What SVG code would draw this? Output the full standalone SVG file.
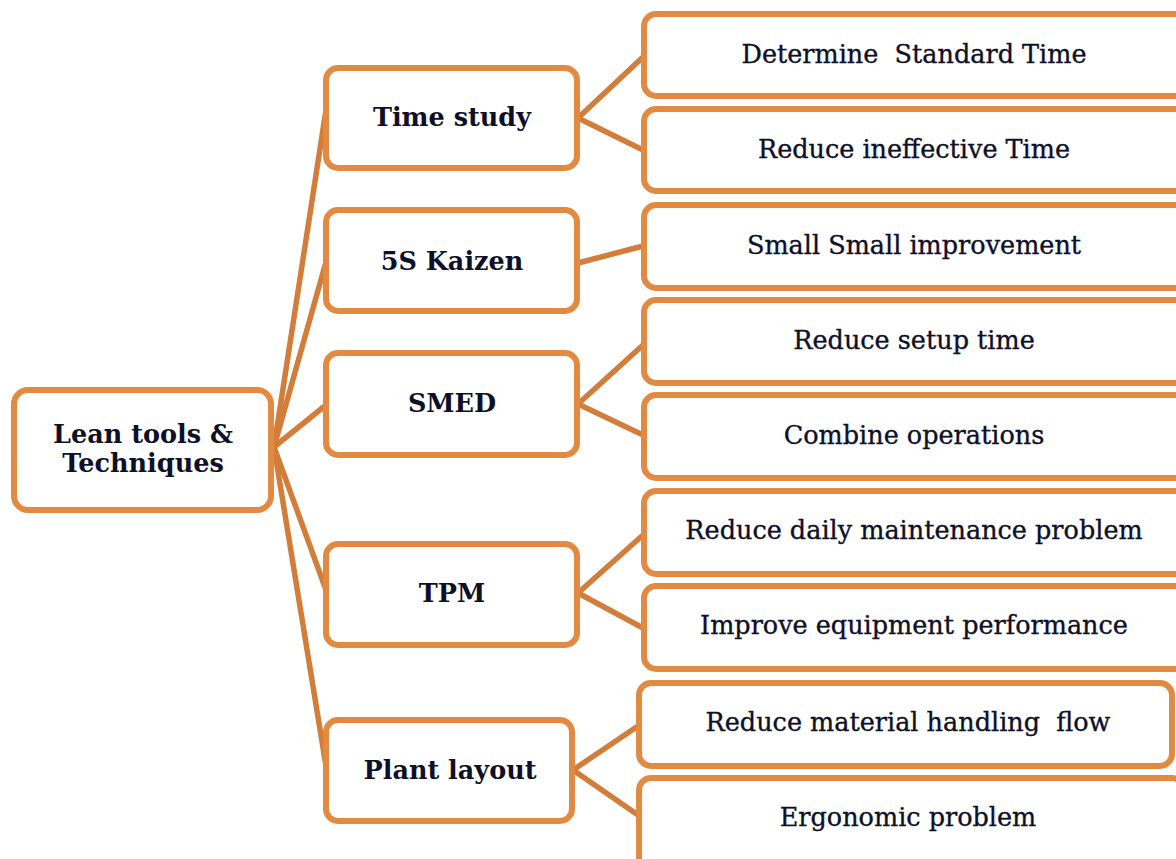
<svg xmlns="http://www.w3.org/2000/svg" width="1176" height="859" viewBox="0 0 1176 859">
<style>
.box{fill:#fff;stroke:#E28A41;stroke-width:6}
.c{stroke:#D27D39;stroke-width:5.5;fill:none;stroke-linecap:round}
.t{font-family:"DejaVu Serif","Liberation Serif",serif;font-size:25.5px;fill:#0e1028;stroke:#0e1028;stroke-width:0.35;text-anchor:middle;white-space:pre}
.b{font-family:"DejaVu Serif","Liberation Serif",serif;font-size:25.5px;font-weight:bold;fill:#0e1028;text-anchor:middle}
</style>
<rect width="1176" height="859" fill="#fff"/>
<g id="connectors">
<line class="c" x1="274" y1="447" x2="326" y2="110"/>
<line class="c" x1="274" y1="447" x2="326" y2="262"/>
<line class="c" x1="274" y1="447" x2="326" y2="405"/>
<line class="c" x1="274" y1="447" x2="326" y2="590"/>
<line class="c" x1="274" y1="447" x2="326" y2="766"/>
<line class="c" x1="578" y1="118" x2="643" y2="57"/>
<line class="c" x1="578" y1="118" x2="643" y2="150"/>
<line class="c" x1="578" y1="263" x2="643" y2="246"/>
<line class="c" x1="578" y1="404" x2="643" y2="345"/>
<line class="c" x1="578" y1="404" x2="643" y2="435"/>
<line class="c" x1="578" y1="593" x2="643" y2="535"/>
<line class="c" x1="578" y1="593" x2="643" y2="628"/>
<line class="c" x1="573" y1="770" x2="638" y2="726"/>
<line class="c" x1="573" y1="770" x2="638" y2="815"/>
</g>
<g id="root"><rect class="box" x="14" y="390" width="257" height="120" rx="14"/><text class="b" x="143" y="443">Lean tools &amp;</text><text class="b" x="143" y="472">Techniques</text></g>
<g id="time-study"><rect class="box" x="326" y="68" width="251" height="100" rx="12"/><text class="b" x="452" y="126">Time study</text></g>
<g id="kaizen"><rect class="box" x="326" y="210" width="251" height="101" rx="12"/><text class="b" x="452" y="270">5S Kaizen</text></g>
<g id="smed"><rect class="box" x="326" y="353" width="251" height="102" rx="12"/><text class="b" x="452" y="412">SMED</text></g>
<g id="tpm"><rect class="box" x="326" y="544" width="251" height="101" rx="12"/><text class="b" x="452" y="602">TPM</text></g>
<g id="plant-layout"><rect class="box" x="326" y="720" width="246" height="101" rx="12"/><text class="b" x="450" y="779">Plant layout</text></g>
<g id="n-determine"><rect class="box" x="644" y="14" width="545" height="82" rx="12"/><text class="t" x="914" y="63" xml:space="preserve">Determine  Standard Time</text></g>
<g id="n-ineffective"><rect class="box" x="644" y="109" width="545" height="82" rx="12"/><text class="t" x="914" y="158">Reduce ineffective Time</text></g>
<g id="n-small"><rect class="box" x="644" y="205" width="545" height="83" rx="12"/><text class="t" x="914" y="254">Small Small improvement</text></g>
<g id="n-setup"><rect class="box" x="644" y="300" width="545" height="83" rx="12"/><text class="t" x="914" y="349">Reduce setup time</text></g>
<g id="n-combine"><rect class="box" x="644" y="395" width="545" height="83" rx="12"/><text class="t" x="914" y="444">Combine operations</text></g>
<g id="n-daily"><rect class="box" x="644" y="491" width="545" height="83" rx="12"/><text class="t" x="914" y="539">Reduce daily maintenance problem</text></g>
<g id="n-equipment"><rect class="box" x="644" y="586" width="545" height="83" rx="12"/><text class="t" x="914" y="634">Improve equipment performance</text></g>
<g id="n-material"><rect class="box" x="639" y="683" width="533" height="83" rx="12"/><text class="t" x="908" y="731" xml:space="preserve">Reduce material handling  flow</text></g>
<g id="n-ergonomic"><rect class="box" x="639" y="778" width="545" height="95" rx="12"/><text class="t" x="908" y="826">Ergonomic problem</text></g>
</svg>
